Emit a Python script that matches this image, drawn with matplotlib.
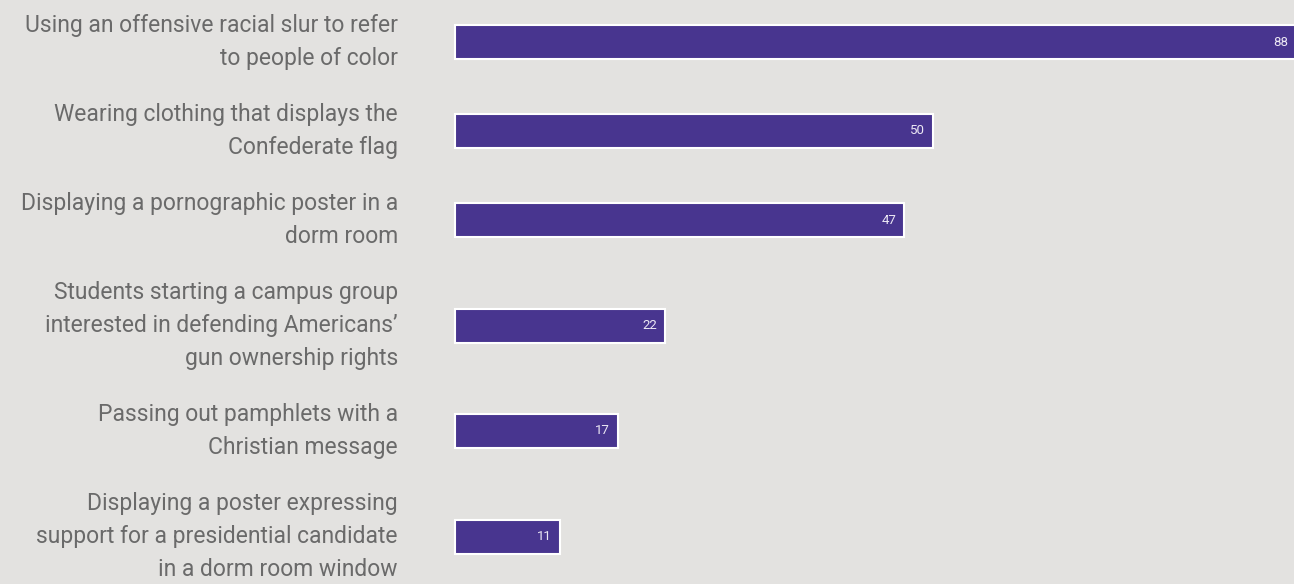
import matplotlib
matplotlib.use("Agg")
import matplotlib.pyplot as plt
from matplotlib.transforms import offset_copy

# data
labels = [
    "Using an offensive racial slur to refer\nto people of color",
    "Wearing clothing that displays the\nConfederate flag",
    "Displaying a pornographic poster in a\ndorm room",
    "Students starting a campus group\ninterested in defending Americans\u2019\ngun ownership rights",
    "Passing out pamphlets with a\nChristian message",
    "Displaying a poster expressing\nsupport for a presidential candidate\nin a dorm room window",
]
values = [88, 50, 47, 22, 17, 11]

bg = "#e3e2e0"
bar_col = "#48358f"
txt_col = "#6a6a6a"

W, H = 1294, 584
fig = plt.figure(figsize=(W / 100, H / 100), dpi=100, facecolor=bg)
left_px = 455
ax = fig.add_axes([left_px / W, 0, 1 - left_px / W, 1])
ax.set_facecolor(bg)

# row layout in pixels: each row grows with the number of label lines
line_h, gap = 33, 23
heights = [l.count("\n") * line_h + line_h + gap for l in labels]
centers = []
y = 42
for i, h in enumerate(heights):
    if i > 0:
        y += (heights[i - 1] + h) / 2
    centers.append(y)

px_per_unit = 9.56
ax.set_xlim(0, (W - left_px) / px_per_unit)
ax.set_ylim(H, 0)

ax.barh(centers, values, height=34, color=bar_col, edgecolor="white",
        linewidth=1.5, clip_on=False)

lab_tr = offset_copy(ax.get_yaxis_transform(), fig=fig, x=-57, y=0, units="dots")
for c, lab in zip(centers, labels):
    ax.text(0, c, lab, transform=lab_tr, ha="right", va="center",
            multialignment="right", fontsize=16.5, color=txt_col,
            linespacing=1.58, family="Roboto")

val_tr = offset_copy(ax.transData, fig=fig, x=-8, y=0, units="dots")
for c, v in zip(centers, values):
    ax.text(v, c, str(v), transform=val_tr, ha="right", va="center",
            fontsize=9.5, color="#ece8f4", family="Roboto")

ax.axis("off")
fig.savefig("out.png", dpi=100, facecolor=bg)
